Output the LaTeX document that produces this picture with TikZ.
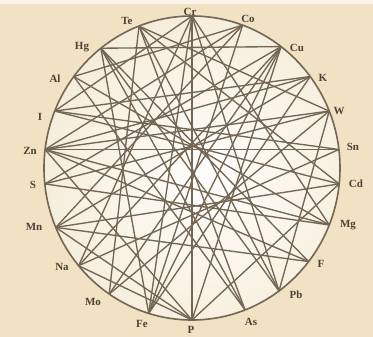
\documentclass[tikz,border=0pt]{standalone}
\usepackage{fontspec}
\setmainfont{Liberation Serif}
\definecolor{bg}{HTML}{F0E2C2}
\definecolor{ln}{HTML}{736655}
\definecolor{tx}{HTML}{4A4236}
\begin{document}
\begin{tikzpicture}[x=1bp,y=-1bp,
  chord/.style={draw=ln, line width=1.35bp},
  rim/.style={draw=ln, line width=1.6bp},
  lab/.style={font=\bfseries\fontsize{11}{12}\selectfont, text=tx, inner sep=0pt}]
\useasboundingbox (0,0) rectangle (373,337);
\fill[bg] (0,0) rectangle (373,337);
\fill[white!60!bg] (0,0) rectangle (373,4);
\begin{scope}
  \clip (192,168) ellipse [x radius=148bp, y radius=152bp];
  \shade[inner color=white!95!bg, outer color=bg] (208,178) circle [radius=290bp];
\end{scope}
% points on the rim
\foreach \n/\a in {Cr/90,Co/70,Cu/53,K/37,W/22,Sn/7,Cd/-6,Mg/-22,F/-38,Pb/-54,As/-69,P/-90,Fe/-107,Mo/-124,Na/-140,Mn/-157,S/-174,Zn/173,I/158,Al/143,Hg/128,Te/111}
  \coordinate (\n) at ({192+148*cos(\a)},{168-152*sin(\a)});
% labels
\node[lab] (lCr) at (190,12) {Cr};
\node[lab] (lCo) at (248,19) {Co};
\node[lab] (lCu) at (297,48) {Cu};
\node[lab] (lK)  at (323,78) {K};
\node[lab] (lW)  at (339,111) {W};
\node[lab] (lSn) at (353,147) {Sn};
\node[lab] (lCd) at (356,184) {Cd};
\node[lab] (lMg) at (348,225) {Mg};
\node[lab] (lF)  at (321,264) {F};
\node[lab] (lPb) at (296,295) {Pb};
\node[lab] (lAs) at (251,322) {As};
\node[lab] (lP)  at (191,330) {P};
\node[lab] (lFe) at (142,324) {Fe};
\node[lab] (lMo) at (93,302) {Mo};
\node[lab] (lNa) at (62,267) {Na};
\node[lab] (lMn) at (34,227) {Mn};
\node[lab] (lS)  at (33,185) {S};
\node[lab] (lZn) at (30,151) {Zn};
\node[lab] (lI)  at (40,117) {I};
\node[lab] (lAl) at (55,79) {Al};
\node[lab] (lHg) at (82,47) {Hg};
\node[lab] (lTe) at (127,21) {Te};
% chords
\foreach \u/\v in {Cr/P,Cr/Fe,Cr/I,Cr/Na,Cr/Pb,Cr/Mg,
  Hg/Cu,Hg/Fe,Hg/Pb,Hg/F,
  Te/Cd,Te/Pb,Te/Mo,Te/W,
  Co/Zn,Co/Mn,Co/Fe,Co/Al,
  Cu/S,Cu/Na,Cu/Mo,Cu/Fe,Cu/P,
  K/Zn,K/Mn,K/Fe,K/I,
  W/S,W/Zn,W/Mo,W/Pb,
  Sn/Zn,Sn/I,Sn/Na,
  Cd/I,Cd/Mn,Cd/P,
  Mg/Zn,Mg/S,Mg/Al,
  F/Zn,F/Mn,
  As/Al,As/Hg,As/Te,
  P/Mn,P/Na,P/Zn}
  \draw[chord] (\u) -- (\v);
\draw[rim] (192,168) ellipse [x radius=148bp, y radius=152bp];
\end{tikzpicture}
\end{document}
